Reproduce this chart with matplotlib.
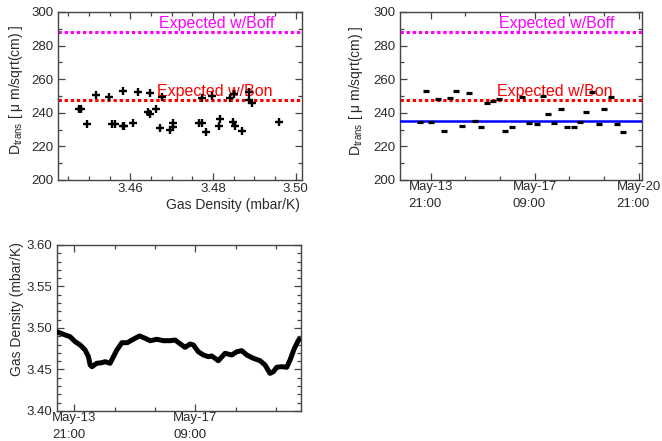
import matplotlib
matplotlib.use("Agg")
import matplotlib.pyplot as plt
import matplotlib.dates as mdates
import matplotlib.transforms as mtransforms
from matplotlib.ticker import MultipleLocator, FixedLocator
import pandas as pd

plt.rcParams['font.family'] = ['Liberation Sans', 'DejaVu Sans']
plt.rcParams['mathtext.fontset'] = 'custom'
plt.rcParams['mathtext.rm'] = 'Liberation Sans'
plt.rcParams['mathtext.it'] = 'Liberation Sans:italic'

# ---- measurements: transverse diffusion vs. gas density ----
density_pts = [3.4475, 3.4480, 3.4496, 3.4518, 3.4549, 3.4556, 3.4562, 3.4583,
               3.4581, 3.4585, 3.4607, 3.4618, 3.4642, 3.4648, 3.4648, 3.4662,
               3.4672, 3.4676, 3.4696, 3.4702, 3.4704, 3.4766, 3.4774, 3.4784,
               3.4774, 3.4798, 3.4816, 3.4814, 3.4842, 3.4850, 3.4849, 3.4853,
               3.4871, 3.4887, 3.4887, 3.4895, 3.4960]
dtrans_by_density = [242.1, 242.1, 233.3, 250.4, 249.2, 233.3, 233.3, 253.0,
                     232.1, 232.1, 234.1, 252.6, 240.7, 239.5, 252.0, 242.4,
                     231.1, 249.7, 229.8, 231.7, 234.1, 233.7, 233.7, 228.8,
                     248.6, 250.0, 236.1, 232.1, 248.6, 251.2, 234.7, 232.1,
                     229.3, 252.6, 247.6, 246.0, 234.7]

# ---- measurements: transverse diffusion vs. time ----
meas_times = ["2014-05-13 12:06", "2014-05-13 17:00", "2014-05-13 21:30",
              "2014-05-14 02:54", "2014-05-14 07:48", "2014-05-14 12:36",
              "2014-05-14 17:42", "2014-05-14 22:06", "2014-05-15 04:00",
              "2014-05-15 08:48", "2014-05-15 13:30", "2014-05-15 18:48",
              "2014-05-15 23:36", "2014-05-16 04:18", "2014-05-16 09:06",
              "2014-05-16 14:30", "2014-05-16 22:36", "2014-05-17 04:48",
              "2014-05-17 10:48", "2014-05-17 15:36", "2014-05-17 20:06",
              "2014-05-18 01:00", "2014-05-18 06:12", "2014-05-18 11:00",
              "2014-05-18 16:24", "2014-05-18 21:48", "2014-05-19 02:24",
              "2014-05-19 07:18", "2014-05-19 12:36", "2014-05-19 17:12",
              "2014-05-19 22:36", "2014-05-20 03:30", "2014-05-20 08:00"]
dtrans_by_time = [234.7, 253.2, 234.7, 248.0, 229.3, 248.6, 253.2, 232.1,
                  251.6, 235.3, 231.7, 245.6, 247.2, 248.4, 229.3, 231.7,
                  249.6, 233.7, 233.1, 250.0, 239.1, 233.7, 242.4, 231.4,
                  231.7, 234.3, 240.7, 252.6, 233.1, 242.4, 249.6, 233.1,
                  228.8]
dtrans_fit = 235.0

# ---- expectations ----
expected_boff = 288.0
expected_bon = 247.5

# ---- gas density monitor ----
monitor_times = ["2014-05-13 09:00", "2014-05-13 14:48", "2014-05-13 18:12",
                 "2014-05-13 21:42", "2014-05-14 01:12", "2014-05-14 04:36",
                 "2014-05-14 06:54", "2014-05-14 08:06", "2014-05-14 09:18",
                 "2014-05-14 12:42", "2014-05-14 16:12", "2014-05-14 18:30",
                 "2014-05-14 21:54", "2014-05-15 02:36", "2014-05-15 06:06",
                 "2014-05-15 09:54", "2014-05-15 13:00", "2014-05-15 18:18",
                 "2014-05-15 22:12", "2014-05-16 01:42", "2014-05-16 06:18",
                 "2014-05-16 10:54", "2014-05-16 15:30", "2014-05-16 19:00",
                 "2014-05-16 22:00", "2014-05-17 01:54", "2014-05-17 05:24",
                 "2014-05-17 07:42", "2014-05-17 11:06", "2014-05-17 14:36",
                 "2014-05-17 18:06", "2014-05-17 20:24", "2014-05-18 01:00",
                 "2014-05-18 05:36", "2014-05-18 10:18", "2014-05-18 13:48",
                 "2014-05-18 17:12", "2014-05-18 20:42", "2014-05-19 01:18",
                 "2014-05-19 05:54", "2014-05-19 09:24", "2014-05-19 12:48",
                 "2014-05-19 15:06", "2014-05-19 17:30", "2014-05-19 20:54",
                 "2014-05-20 00:24", "2014-05-20 02:42", "2014-05-20 05:42",
                 "2014-05-20 08:54"]
monitor_density = [3.4955, 3.4916, 3.4895, 3.4835, 3.4795, 3.4735, 3.4654,
                   3.4554, 3.4534, 3.4575, 3.4582, 3.4594, 3.4575, 3.4735,
                   3.4823, 3.4823, 3.4855, 3.4904, 3.4876, 3.4847, 3.4864,
                   3.4847, 3.4847, 3.4855, 3.4816, 3.4767, 3.4807, 3.4795,
                   3.4714, 3.4675, 3.4654, 3.4663, 3.4606, 3.4695, 3.4675,
                   3.4714, 3.4727, 3.4675, 3.4635, 3.4606, 3.4554, 3.4454,
                   3.4473, 3.4527, 3.4534, 3.4527, 3.4614, 3.4755, 3.4864]

date_major = ["2014-05-13 21:00", "2014-05-17 09:00", "2014-05-20 21:00"]
date_minor = ["2014-05-15 01:00", "2014-05-16 05:00",
              "2014-05-18 13:00", "2014-05-19 17:00"]

TXT = '#2a2a2a'
SPINE = '#444444'
FS_TICK = 9.5
FS_LABEL = 10


def style_axes(ax, xpad):
    for s in ax.spines.values():
        s.set_color(SPINE)
        s.set_linewidth(1.0)
    ax.tick_params(which='both', direction='in', top=True, right=True,
                   colors=SPINE, labelcolor=TXT, labelsize=FS_TICK)
    ax.tick_params(which='major', length=5, width=0.9)
    ax.tick_params(which='minor', length=2.8, width=0.9)
    ax.tick_params(axis='y', which='both', pad=3.5)
    ax.tick_params(axis='x', which='both', pad=xpad)


def set_date_axis(ax):
    ax.xaxis.set_major_locator(FixedLocator(mdates.date2num(pd.to_datetime(date_major))))
    ax.xaxis.set_minor_locator(FixedLocator(mdates.date2num(pd.to_datetime(date_minor))))
    ax.xaxis.set_major_formatter(mdates.DateFormatter('%b-%d\n%H:%M'))


def finish_date_labels(ax):
    for lbl in ax.get_xticklabels():
        lbl.set_multialignment('left')
        lbl.set_linespacing(1.55)


def add_expectations(ax):
    trans = mtransforms.blended_transform_factory(ax.transAxes, ax.transData)
    ax.axhline(expected_boff, color='#ff00ff', lw=2.2, ls=(0, (1.1, 0.9)), zorder=2)
    ax.axhline(expected_bon, color='#ff0000', lw=2.2, ls=(0, (1.1, 0.9)), zorder=2)
    ax.text(0.885, 290.3, 'Expected w/Boff', color='#ff00ff', fontsize=11.5,
            ha='right', va='baseline', transform=trans, zorder=3)
    ax.text(0.88, 250.0, 'Expected w/Bon', color='#ff0000', fontsize=11.5,
            ha='right', va='baseline', transform=trans, zorder=3)


ylabel_d = r'D$_{\rm trans}$ [ μ m/sqrt(cm) ]'

fig = plt.figure(figsize=(6.62, 4.41), dpi=100)

# top-left: diffusion vs. gas density
ax1 = fig.add_axes([58 / 662, 1 - 180 / 441, 244 / 662, 168 / 441])
add_expectations(ax1)
ax1.plot(density_pts, dtrans_by_density, ls='none', marker='+', ms=5.2,
         mew=1.7, color='black', zorder=4)
ax1.set_xlim(3.4425, 3.5015)
ax1.set_ylim(200, 300)
ax1.xaxis.set_major_locator(MultipleLocator(0.02))
ax1.xaxis.set_minor_locator(MultipleLocator(0.005))
ax1.yaxis.set_major_locator(MultipleLocator(20))
ax1.yaxis.set_minor_locator(MultipleLocator(10))
ax1.xaxis.set_major_formatter(matplotlib.ticker.FormatStrFormatter('%.2f'))
style_axes(ax1, 2.0)
ax1.text(-0.172, 0.539, ylabel_d, rotation=90, ha='center', va='center',
         fontsize=FS_LABEL, color=TXT, transform=ax1.transAxes)
ax1.text(0.992, -0.149, 'Gas Density (mbar/K)', ha='right', va='center',
         fontsize=FS_LABEL, color=TXT, transform=ax1.transAxes)

# top-right: diffusion vs. time
ax2 = fig.add_axes([400 / 662, 1 - 180 / 441, 242 / 662, 168 / 441])
add_expectations(ax2)
ax2.axhline(dtrans_fit, color='#0000ff', lw=1.8, zorder=3)
ax2.plot(pd.to_datetime(meas_times), dtrans_by_time, ls='none', marker='_',
         ms=4.3, mew=2.3, color='black', zorder=4)
ax2.set_xlim(pd.Timestamp("2014-05-12 20:12"), pd.Timestamp("2014-05-20 23:42"))
ax2.set_ylim(200, 300)
ax2.yaxis.set_major_locator(MultipleLocator(20))
ax2.yaxis.set_minor_locator(MultipleLocator(10))
set_date_axis(ax2)
style_axes(ax2, 0.6)
finish_date_labels(ax2)
ax2.text(-0.182, 0.53, ylabel_d, rotation=90, ha='center', va='center',
         fontsize=FS_LABEL, color=TXT, transform=ax2.transAxes)

# bottom-left: gas density vs. time
ax3 = fig.add_axes([57 / 662, 1 - 411 / 441, 244 / 662, 166 / 441])
ax3.plot(pd.to_datetime(monitor_times), monitor_density, color='black', lw=3.6,
         solid_joinstyle='round', solid_capstyle='round', zorder=3)
ax3.set_xlim(pd.Timestamp("2014-05-13 09:06"), pd.Timestamp("2014-05-20 10:18"))
ax3.set_ylim(3.40, 3.60)
ax3.yaxis.set_major_locator(MultipleLocator(0.05))
ax3.yaxis.set_minor_locator(MultipleLocator(0.01))
ax3.yaxis.set_major_formatter(matplotlib.ticker.FormatStrFormatter('%.2f'))
set_date_axis(ax3)
style_axes(ax3, 0.6)
finish_date_labels(ax3)
ax3.text(-0.164, 0.617, 'Gas Density (mbar/K)', rotation=90, ha='center',
         va='center', fontsize=FS_LABEL, color=TXT, transform=ax3.transAxes)

fig.savefig('out.png', dpi=100)
